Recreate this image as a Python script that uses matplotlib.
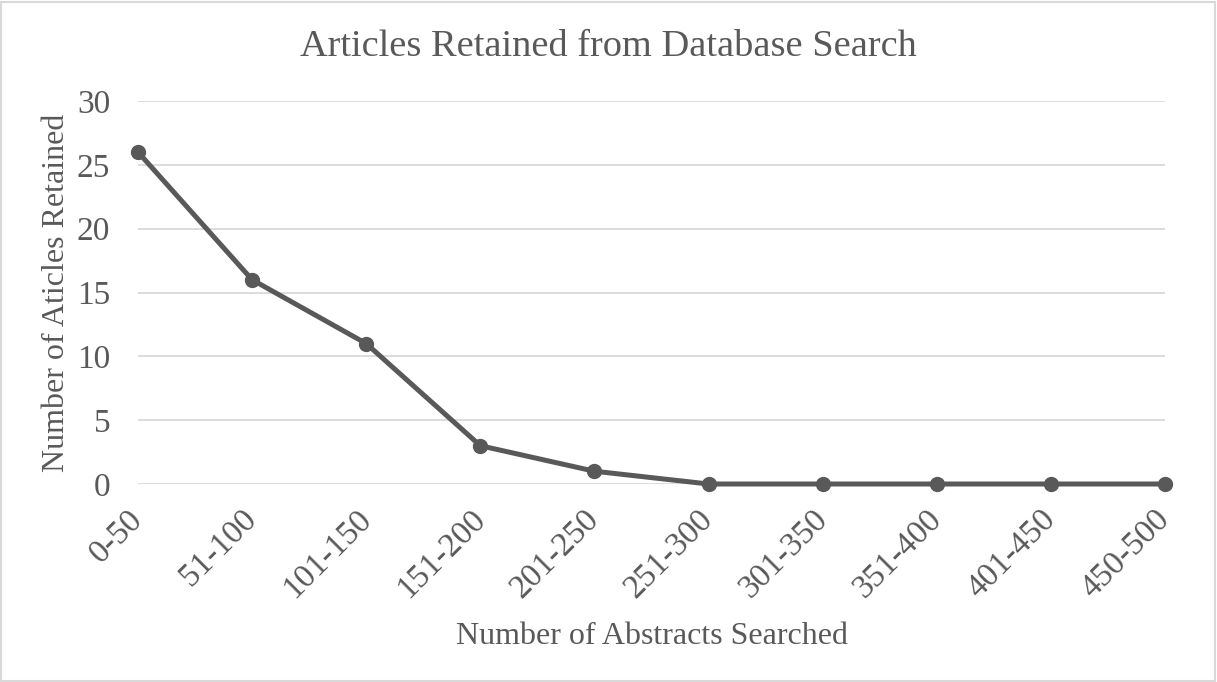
import matplotlib
matplotlib.use("Agg")
import matplotlib.pyplot as plt
from matplotlib.patches import Rectangle

# --- Data ---
ranges = ["0-50", "51-100", "101-150", "151-200", "201-250",
          "251-300", "301-350", "351-400", "401-450", "450-500"]
retained = [26, 16, 11, 3, 1, 0, 0, 0, 0, 0]
y_ticks = [0, 5, 10, 15, 20, 25, 30]

text_color = "#595959"
plt.rcParams["font.family"] = ["Liberation Serif", "DejaVu Serif"]

fig = plt.figure(figsize=(12.17, 6.82), dpi=100)
ax = fig.add_axes([138 / 1217, 1 - 484 / 682, (1165 - 138) / 1217, (484 - 101) / 682])

x = list(range(len(ranges)))
ax.plot(x, retained, color="#595959", linewidth=3.6, marker="o",
        markersize=10, zorder=3, clip_on=False)

ax.set_xlim(0, len(ranges) - 1)
ax.set_ylim(0, 30)
ax.set_yticks(y_ticks)
ax.set_xticks(x)
ax.set_xticklabels(ranges, rotation=45, ha="right", va="center",
                   rotation_mode="anchor")
ax.tick_params(axis="both", length=0, labelsize=24, colors=text_color)
ax.tick_params(axis="x", pad=22)
ax.tick_params(axis="y", pad=20)

ax.grid(axis="y", color="#d9d9d9", linewidth=1.3)
ax.set_axisbelow(True)
for side in ["top", "right", "left", "bottom"]:
    ax.spines[side].set_visible(False)

ax.set_xlabel("Number of Abstracts Searched", fontsize=23, color=text_color, labelpad=13)
ax.set_ylabel("Number of Aticles Retained", fontsize=23, color=text_color, labelpad=4)
fig.text(0.5, 1 - 47 / 682, "Articles Retained from Database Search",
         ha="center", va="center", fontsize=27.6, color=text_color)

# thin chart-area border
fig.patches.append(Rectangle((0.001, 0.002), 0.997, 0.995, transform=fig.transFigure,
                             fill=False, edgecolor="#d9d9d9", linewidth=1.5))

fig.savefig("out.png", dpi=100)
